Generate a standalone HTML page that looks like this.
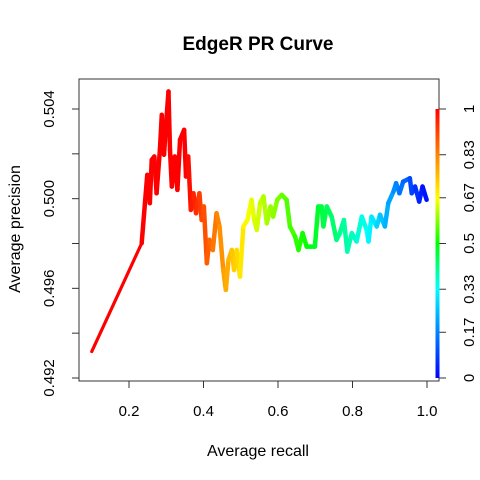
<!DOCTYPE html>
<html><head><meta charset="utf-8"><style>
html,body{margin:0;padding:0;background:#fff;}
svg{display:block;font-family:"Liberation Sans",Arial,sans-serif;}
</style></head><body>
<svg id="chart" width="480" height="480" viewBox="0 0 480 480" xmlns="http://www.w3.org/2000/svg">
<defs>
<linearGradient id="cbar" x1="0" y1="1" x2="0" y2="0">
<stop offset="0" stop-color="#0000ff"/><stop offset="0.1667" stop-color="#0080ff"/>
<stop offset="0.3333" stop-color="#00ffff"/><stop offset="0.5" stop-color="#00ff00"/>
<stop offset="0.6667" stop-color="#ffff00"/><stop offset="0.8333" stop-color="#ff8000"/>
<stop offset="1" stop-color="#ff0000"/>
</linearGradient>
</defs>
<text x="258" y="50" text-anchor="middle" font-size="19" font-weight="bold">EdgeR PR Curve</text>
<text x="258" y="456" text-anchor="middle" font-size="16">Average recall</text>
<text transform="translate(20,229) rotate(-90)" text-anchor="middle" font-size="16">Average precision</text>
<g id="axes"></g>
<g id="marks"></g>
<rect x="79" y="79" width="360" height="302" fill="none" stroke="#333" stroke-width="1"/>
<rect x="435.5" y="109" width="4" height="269" fill="url(#cbar)"/>
</svg>
<script>
const recall = [0.100,0.234,0.249,0.256,0.261,0.268,0.274,0.283,0.288,0.294,0.299,0.306,0.310,0.315,0.323,0.330,0.337,0.348,0.353,0.359,0.366,0.373,0.380,0.389,0.395,0.401,0.409,0.416,0.425,0.435,0.443,0.453,0.460,0.467,0.476,0.482,0.489,0.498,0.507,0.518,0.529,0.536,0.543,0.552,0.561,0.570,0.580,0.587,0.598,0.610,0.623,0.632,0.646,0.655,0.666,0.677,0.688,0.699,0.708,0.717,0.722,0.731,0.744,0.757,0.766,0.777,0.786,0.798,0.811,0.825,0.838,0.843,0.851,0.865,0.874,0.887,0.896,0.910,0.917,0.926,0.936,0.954,0.959,0.968,0.979,0.988,0.999];
const precision = [0.49318,0.49801,0.50106,0.4998,0.50173,0.50188,0.50024,0.50218,0.50374,0.50196,0.50322,0.50478,0.50218,0.50054,0.50188,0.50039,0.50263,0.50307,0.50099,0.50188,0.4995,0.50024,0.49935,0.50024,0.49905,0.49965,0.49712,0.49816,0.49771,0.49935,0.49876,0.49682,0.49593,0.49727,0.49771,0.49682,0.49771,0.49652,0.49876,0.49905,0.49995,0.49905,0.49861,0.4998,0.5001,0.4989,0.49965,0.4992,0.49995,0.50017,0.49995,0.49876,0.49831,0.49771,0.49846,0.49786,0.49786,0.49786,0.49965,0.49965,0.49876,0.49965,0.4992,0.49816,0.49846,0.49905,0.49764,0.49846,0.49809,0.4992,0.49861,0.49809,0.4992,0.49876,0.49928,0.49876,0.4998,0.50032,0.50069,0.50024,0.50076,0.50091,0.50024,0.50054,0.49987,0.50054,0.49995];
const xTicks = [0.2,0.4,0.6,0.8,1.0];
const xTickLabels = ["0.2","0.4","0.6","0.8","1.0"];
const yTicks = [0.492,0.494,0.496,0.498,0.500,0.502,0.504];
const yTickLabels = ["0.492","","0.496","","0.500","","0.504"];
const cTicks = [0,0.17,0.33,0.5,0.67,0.83,1];
const cTickLabels = ["0","0.17","0.33","0.5","0.67","0.83","1"];

const NS="http://www.w3.org/2000/svg";
function xs(v){return 129+(v-0.2)/0.8*298;}
function ys(v){return 378-(v-0.492)/0.012*269;}
function cs(v){return 378-v*269;}
function mk(t,a){const e=document.createElementNS(NS,t);for(const k in a)e.setAttribute(k,a[k]);return e;}
const axes=document.getElementById('axes'), marks=document.getElementById('marks');
xTicks.forEach((t,i)=>{
  const l=mk('line',{x1:xs(t),x2:xs(t),y1:381,y2:388,stroke:'#333'});
  
  
  axes.appendChild(l);
  const tx=mk('text',{x:xs(t),y:416,'text-anchor':'middle','font-size':15});
  
  
  tx.textContent=xTickLabels[i];axes.appendChild(tx);
});
axes.appendChild(mk('line',{x1:xs(0.2),x2:xs(1.0),y1:381,y2:381,stroke:'#333'}));
yTicks.forEach((t,i)=>{
  const l=mk('line',{x1:72,x2:79,y1:ys(t),y2:ys(t),stroke:'#333'});
  
  
  axes.appendChild(l);
  if(yTickLabels[i]){
    const tx=mk('text',{transform:`translate(54,${ys(t)}) rotate(-90)`,'text-anchor':'middle','font-size':15});
    
    
    tx.textContent=yTickLabels[i];axes.appendChild(tx);
  }
});
cTicks.forEach((t,i)=>{
  const l=mk('line',{x1:439,x2:446,y1:cs(t),y2:cs(t),stroke:'#333'});
  
  
  axes.appendChild(l);
  const tx=mk('text',{transform:`translate(474,${cs(t)}) rotate(-90)`,'text-anchor':'middle','font-size':15});
  
  
  tx.textContent=cTickLabels[i];axes.appendChild(tx);
});
axes.appendChild(mk('line',{x1:439,x2:439,y1:cs(0),y2:cs(1),stroke:'#333'}));
function hueFor(r){const h=r<0.35?0:Math.min(240,(r-0.35)/0.65*240);return `hsl(${h},100%,50%)`;}
for(let i=0;i<recall.length-1;i++){
  const s=mk('line',{x1:xs(recall[i]),y1:ys(precision[i]),x2:xs(recall[i+1]),y2:ys(precision[i+1]),stroke:hueFor(recall[i]),'stroke-width':i<1?3.2:4.5,'stroke-linecap':'round'});
  
  
  marks.appendChild(s);
}
</script>
</body></html>
